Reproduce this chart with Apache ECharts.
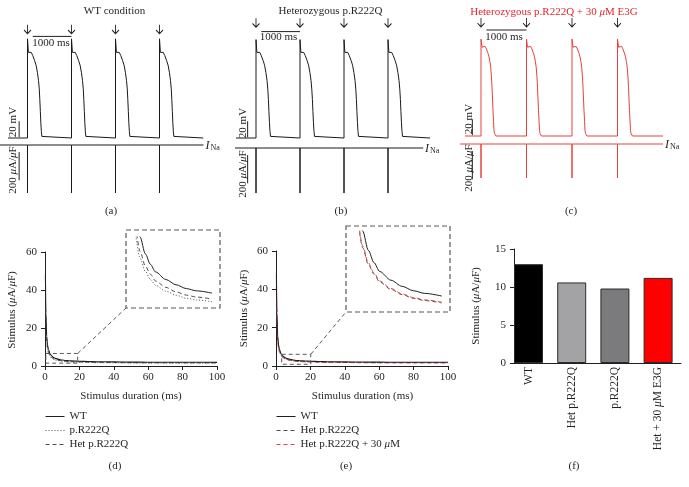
<!DOCTYPE html>
<html>
<head>
<meta charset="utf-8">
<script src="https://cdn.jsdelivr.net/npm/echarts@6.0.0/dist/echarts.min.js"></script>
<style>
html,body{margin:0;padding:0;background:#fff;}
#chart{width:689px;height:487px;}
</style>
</head>
<body>
<div id="chart"></div>
<script>
// ---------------- DATA ----------------
// Top panels: stimulation times (ms) and one action-potential beat (time offset ms, voltage mV)
const stimTimes = [0, 1000, 2000, 3000];
const restV = -86;
const beatT_WT  = [0, 0, 20, 45, 85, 120, 160, 195, 225, 250, 268, 280, 292, 303, 315, 326, 345];
const beatV_WT  = [-86, 38, 21, 23, 21, 17, 11, 5, -4, -14, -25, -38, -53, -67, -78, -84, -86];
const beatT_Het = [0, 0, 20, 45, 85, 120, 160, 195, 225, 250, 268, 282, 294, 306, 318, 330, 350];
const beatV_Het = [-86, 37, 21, 23, 21, 17, 11, 5, -4, -14, -25, -38, -53, -67, -78, -84, -86];
const beatT_E3G = [0, 0, 22, 59, 90, 117, 150, 176, 196, 213, 230, 242, 254, 264, 276, 286, 298, 308, 330];
const beatV_E3G = [-86, 35, 25, 27, 26, 23, 18, 13, 7, 0, -12, -25, -41, -54, -68, -79, -83, -85, -86];
const iNaPeak   = [-340, -319, -241];       // µA/µF, panels a, b, c
const apStart   = [-443, -455, -352];       // ms
const apEnd     = [3995, 3955, 4000];
const inaStart  = [-625, -477, -462];
const inaEnd    = [4000, 3800, 4000];
const scaleBarMs  = [120, 1000];            // "1000 ms" bar
const scaleBarV   = [41, 47, 46.5];         // mV level of that bar
const arrowV      = [50, 58, 56];           // mV level of stimulus arrows
const scaleBarT   = -190;                   // ms position of vertical scale bars
const scaleBarMV  = 20;                     // mV
const scaleBarINa = 200;                    // µA/µF
const scaleBarINaStart = -50;

// Bottom panels: strength-duration curves
const durations = [0.25,0.5,1,1.5,2,3,4,5,6,8,10,12,14,17,20,25,30,40,50,60,70,80,90,100];
const stimWT  = [48,28,15.5,11,8.7,6.3,5.2,4.5,4.0,3.5,3.15,2.9,2.75,2.6,2.5,2.35,2.25,2.15,2.05,2.0,1.98,1.96,1.94,1.93];
const stimHet = [41,24,13.2,9.4,7.4,5.35,4.4,3.85,3.4,2.98,2.68,2.47,2.34,2.21,2.13,2.0,1.91,1.83,1.74,1.7,1.68,1.67,1.65,1.64];
const stimHom = [37.5,21.8,12.1,8.6,6.8,4.9,4.05,3.5,3.12,2.73,2.46,2.26,2.15,2.03,1.95,1.83,1.76,1.68,1.6,1.56,1.54,1.53,1.51,1.5];
const stimE3G = [42,24.6,13.5,9.6,7.55,5.45,4.48,3.92,3.46,3.03,2.72,2.51,2.38,2.25,2.16,2.03,1.94,1.86,1.77,1.73,1.71,1.7,1.68,1.67];
const zoomBoxD = [0.5, 19, 1.5, 6.6];      // [x0, x1, y0, y1]
const zoomBoxE = [3.3, 20.2, 0.9, 6.1];
const insetRangeD = [2, 17];
const insetRangeE = [2, 17];

// Bar panel
const barCats = ['WT', 'Het p.R222Q', 'p.R222Q', 'Het + 30 μM E3G'];
const barVals = [13, 10.6, 9.8, 11.2];
const barColors = ['#000000', '#a3a3a6', '#7b7b7d', '#ff0000'];

// ---------------- STYLE / LAYOUT ----------------
const FONT = '"Liberation Serif", "DejaVu Serif", serif';
const TXT = '#231f20';
const RED_T = '#e3262b';
const RED_L = '#e8403f';
const GRAY_D = '#4d4d4f';
const W = 229, MVPX = 1.25, INPX = 340 / 48;
const ARROW = 'path://M5,0 L5,12 M0.5,7 L5,12 L9.5,7';

const panels = [
  {left: 0,   stimX: 27.5, pxms: 0.044,  restY: 138, inaY: 145, color: '#1a1a1a', bt: beatT_WT,  bv: beatV_WT,
   title: 'WT condition', titleX: 114.5, titleY: 11, titleColor: TXT,
   msX: 51, msY: 43.5, mvX: 13.5, mvY: 122, uaX: 13.5, uaY: 170, inaLX: 205.5, lab: '(a)', labX: 111},
  {left: 230, stimX: 256,  pxms: 0.044,  restY: 138, inaY: 148, color: '#1a1a1a', bt: beatT_Het, bv: beatV_Het,
   title: 'Heterozygous p.R222Q', titleX: 330.5, titleY: 11, titleColor: TXT,
   msX: 278.5, msY: 37, mvX: 243.5, mvY: 123, uaX: 243.5, uaY: 174, inaLX: 425, lab: '(b)', labX: 341},
  {left: 460, stimX: 481,  pxms: 0.0455, restY: 136, inaY: 144, color: RED_L, bt: beatT_E3G, bv: beatV_E3G,
   title: 'Heterozygous p.R222Q + 30 {i|μ}M E3G', titleX: 554, titleY: 12, titleColor: RED_T,
   msX: 504, msY: 37, mvX: 469, mvY: 119, uaX: 469, uaY: 168, inaLX: 665, lab: '(c)', labX: 571}
];

const grids = [], xAxes = [], yAxes = [], series = [], graphics = [];
function addGrid(g) { grids.push(Object.assign({outerBoundsMode: 'none'}, g)); return grids.length - 1; }
function hidden(g, min, max) { return {gridIndex: g, type: 'value', min, max, show: false, splitLine: {show: false}}; }
function line(g, data, ls, extra) {
  return Object.assign({type: 'line', xAxisIndex: g, yAxisIndex: g, data, symbol: 'none', silent: true,
    lineStyle: ls, itemStyle: {color: ls.color}, z: 3}, extra || {});
}
function txt(x, y, text, o) {
  o = o || {};
  const color = o.color || TXT, size = o.size || 11;
  graphics.push({type: 'text', x, y, rotation: o.rot || 0, silent: true, z: 100,
    style: {text, fill: color, fontFamily: FONT, fontSize: size, fontStyle: o.italic ? 'italic' : 'normal',
      align: o.align || 'center', verticalAlign: o.va || 'middle',
      rich: {i: {fontStyle: 'italic', fontFamily: FONT, fontSize: size, fill: color}}}});
}
function axisVal(g, min, max, interval, isY) {
  return {gridIndex: g, type: 'value', min, max, interval,
    axisLine: {show: true, onZero: false, lineStyle: {color: TXT, width: 1}},
    axisTick: {show: true, length: 4, inside: false, lineStyle: {color: TXT, width: 1}},
    axisLabel: {show: true, color: TXT, fontFamily: FONT, fontSize: 11, margin: isY ? 8 : 6},
    splitLine: {show: false}};
}

// ---------------- TOP PANELS ----------------
panels.forEach((p, i) => {
  const tMin = -(p.stimX - p.left) / p.pxms, tMax = tMin + W / p.pxms;
  const g = addGrid({left: p.left, top: 15, width: W, height: 135});
  xAxes.push(hidden(g, tMin, tMax));
  yAxes.push(hidden(g, restV - (150 - p.restY) * MVPX, restV + (p.restY - 15) * MVPX));
  const ap = [[apStart[i], restV]];
  stimTimes.forEach(s => p.bt.forEach((t, k) => ap.push([s + t, p.bv[k]])));
  ap.push([apEnd[i], restV]);
  series.push(line(g, ap, {color: p.color, width: 1}));
  series.push(line(g, [[scaleBarT, restV + 1], [scaleBarT, restV + 1 + scaleBarMV]], {color: TXT, width: 1}));
  series.push(line(g, [[scaleBarMs[0], scaleBarV[i]], [scaleBarMs[1], scaleBarV[i]]], {color: TXT, width: 1}));
  series.push({type: 'scatter', xAxisIndex: g, yAxisIndex: g, silent: true, z: 5,
    data: stimTimes.map(s => [s, arrowV[i]]), symbol: ARROW, symbolSize: [7, 9],
    itemStyle: {color: 'none', borderColor: TXT, borderWidth: 1, opacity: 1}});

  const g2 = addGrid({left: p.left, top: p.inaY - 12, width: W, height: 70});
  xAxes.push(hidden(g2, tMin, tMax));
  yAxes.push(hidden(g2, -58 * INPX, 12 * INPX));
  const ina = [[inaStart[i], 0]];
  stimTimes.forEach(s => ina.push([s, 0], [s, iNaPeak[i]], [s, 0]));
  ina.push([inaEnd[i], 0]);
  series.push(line(g2, ina, {color: p.color, width: 1}));
  series.push(line(g2, [[scaleBarT, scaleBarINaStart], [scaleBarT, scaleBarINaStart - scaleBarINa]], {color: TXT, width: 1}));

  txt(p.titleX, p.titleY, p.title, {color: p.titleColor});
  txt(p.msX, p.msY, '1000 ms');
  txt(p.mvX, p.mvY, '20 mV', {rot: Math.PI / 2});
  txt(p.uaX, p.uaY, '200 {i|μ}A/{i|μ}F', {rot: Math.PI / 2});
  txt(p.inaLX, p.inaY + 0.5, 'I', {italic: true, size: 12, align: 'left'});
  txt(p.inaLX + 5, p.inaY + 3, 'Na', {size: 8, align: 'left'});
  txt(p.labX, 211, p.lab);
});

// ---------------- STRENGTH-DURATION PANELS ----------------
function curve(g, name, vals, color, type, width, range) {
  let d = durations.map((t, k) => [t, vals[k]]);
  if (range) d = d.filter(q => q[0] >= range[0] && q[0] <= range[1]);
  return {type: 'line', name, xAxisIndex: g, yAxisIndex: g, data: d, symbol: 'none', silent: true,
    smooth: 0.3, smoothMonotone: 'x', lineStyle: {color, type, width}, itemStyle: {color}};
}
function boxSeries(g, b) {
  return line(g, [[b[0], b[3]], [b[1], b[3]], [b[1], b[2]], [b[0], b[2]], [b[0], b[3]]],
    {color: '#58595b', width: 1, type: [4, 3]}, {smooth: false, z: 4});
}
const DASH = [4, 3], DOT = [1, 2];

// (d)
const gD = addGrid({left: 45, top: 252, width: 172, height: 114});
xAxes.push(axisVal(gD, 0, 100, 20, false)); yAxes.push(axisVal(gD, 0, 60, 20, true));
series.push(curve(gD, 'p.R222Q', stimHom, GRAY_D, DOT, 1));
series.push(curve(gD, 'Het p.R222Q', stimHet, GRAY_D, DASH, 1));
series.push(curve(gD, 'WT', stimWT, TXT, 'solid', 1.1));
series.push(boxSeries(gD, zoomBoxD));
const gDi = addGrid({left: 126, top: 237, width: 94, height: 71});
xAxes.push(hidden(gDi, 0.25, 18.55)); yAxes.push(hidden(gDi, 1.62, 6.30));
series.push(curve(gDi, 'iD1', stimHom, GRAY_D, DOT, 1, insetRangeD));
series.push(curve(gDi, 'iD2', stimHet, GRAY_D, DASH, 1, insetRangeD));
series.push(curve(gDi, 'iD3', stimWT, TXT, 'solid', 1, insetRangeD));

// (e)
const gE = addGrid({left: 276, top: 251, width: 172, height: 115});
xAxes.push(axisVal(gE, 0, 100, 20, false)); yAxes.push(axisVal(gE, 0, 60, 20, true));
series.push(curve(gE, 'Het p.R222Q', stimHet, GRAY_D, DASH, 1));
series.push(curve(gE, 'Het p.R222Q + 30 μM', stimE3G, RED_L, DASH, 1));
series.push(curve(gE, 'WT', stimWT, TXT, 'solid', 1.1));
series.push(boxSeries(gE, zoomBoxE));
const gEi = addGrid({left: 346, top: 231, width: 104, height: 81});
xAxes.push(hidden(gEi, 0.04, 18.48)); yAxes.push(hidden(gEi, 1.69, 6.30));
series.push(curve(gEi, 'iE1', stimHet, GRAY_D, DASH, 1, insetRangeE));
series.push(curve(gEi, 'iE2', stimE3G, RED_L, DASH, 1, insetRangeE));
series.push(curve(gEi, 'iE3', stimWT, TXT, 'solid', 1, insetRangeE));

// inset boxes
graphics.push({type: 'rect', silent: true, z: 50, shape: {x: 126, y: 230, width: 94, height: 78},
  style: {fill: 'none', stroke: '#58595b', lineWidth: 1.2, lineDash: [5, 3]}});
graphics.push({type: 'rect', silent: true, z: 50, shape: {x: 346, y: 226, width: 104, height: 86},
  style: {fill: 'none', stroke: '#58595b', lineWidth: 1.2, lineDash: [5, 3]}});

// (f) bars
const gF = addGrid({left: 514, top: 249, width: 167, height: 114});
xAxes.push({gridIndex: gF, type: 'value', min: -0.336, max: 3.53,
  axisLine: {show: true, onZero: false, lineStyle: {color: TXT, width: 1}},
  axisTick: {show: false}, splitLine: {show: false},
  axisLabel: {show: true, customValues: [0, 1, 2, 3], rotate: 90, margin: 4, color: TXT, fontFamily: FONT, fontSize: 11.5,
    formatter: v => (Number.isInteger(v) && barCats[v]) ? barCats[v].replace('μ', '{i|μ}') : '',
    rich: {i: {fontStyle: 'italic', fontFamily: FONT, fontSize: 11.5, color: TXT}}}});
yAxes.push(axisVal(gF, 0, 15, 5, true));
series.push({type: 'bar', xAxisIndex: gF, yAxisIndex: gF, barWidth: 29, silent: true,
  data: barVals.map((v, k) => ({value: [k, v], itemStyle: {color: barColors[k], borderColor: '#2b2b2b', borderWidth: 1}}))});

// axis titles & panel labels
txt(131, 396, 'Stimulus duration (ms)');
txt(362.5, 396, 'Stimulus duration (ms)');
txt(12.5, 310, 'Stimulus ({i|μ}A/{i|μ}F)', {rot: Math.PI / 2});
txt(244, 308.5, 'Stimulus ({i|μ}A/{i|μ}F)', {rot: Math.PI / 2});
txt(476, 306, 'Stimulus ({i|μ}A/{i|μ}F)', {rot: Math.PI / 2});
txt(115, 466, '(d)');
txt(346, 466, '(e)');
txt(574, 466, '(f)');

const legendBase = {orient: 'vertical', itemWidth: 19, itemHeight: 10, itemGap: 3, padding: 0, selectedMode: false,
  itemStyle: {opacity: 0, borderWidth: 0},
  lineStyle: {width: 1},
  textStyle: {color: TXT, fontFamily: FONT, fontSize: 11,
    rich: {i: {fontStyle: 'italic', fontFamily: FONT, fontSize: 11, color: TXT}}},
  formatter: n => n.replace('μ', '{i|μ}')};

const option = {
  animation: false,
  backgroundColor: '#ffffff',
  grid: grids, xAxis: xAxes, yAxis: yAxes, series,
  legend: [
    Object.assign({}, legendBase, {left: 45, top: 411, data: ['WT', 'p.R222Q', 'Het p.R222Q']}),
    Object.assign({}, legendBase, {left: 276, top: 411, data: ['WT', 'Het p.R222Q', 'Het p.R222Q + 30 μM']})
  ],
  graphic: graphics
};
const chart = echarts.init(document.getElementById('chart'), null, {renderer: 'canvas'});
chart.setOption(option);

// connectors from zoom boxes to insets
const cD = chart.convertToPixel({gridIndex: gD}, [zoomBoxD[1], zoomBoxD[3]]);
const cE = chart.convertToPixel({gridIndex: gE}, [zoomBoxE[1], zoomBoxE[3]]);
graphics.push({type: 'line', silent: true, z: 50, shape: {x1: cD[0], y1: cD[1], x2: 126, y2: 308},
  style: {stroke: '#58595b', lineWidth: 1, lineDash: [4, 3]}});
graphics.push({type: 'line', silent: true, z: 50, shape: {x1: cE[0], y1: cE[1], x2: 346, y2: 312},
  style: {stroke: '#58595b', lineWidth: 1, lineDash: [4, 3]}});
chart.setOption({graphic: graphics});
</script>
</body>
</html>
